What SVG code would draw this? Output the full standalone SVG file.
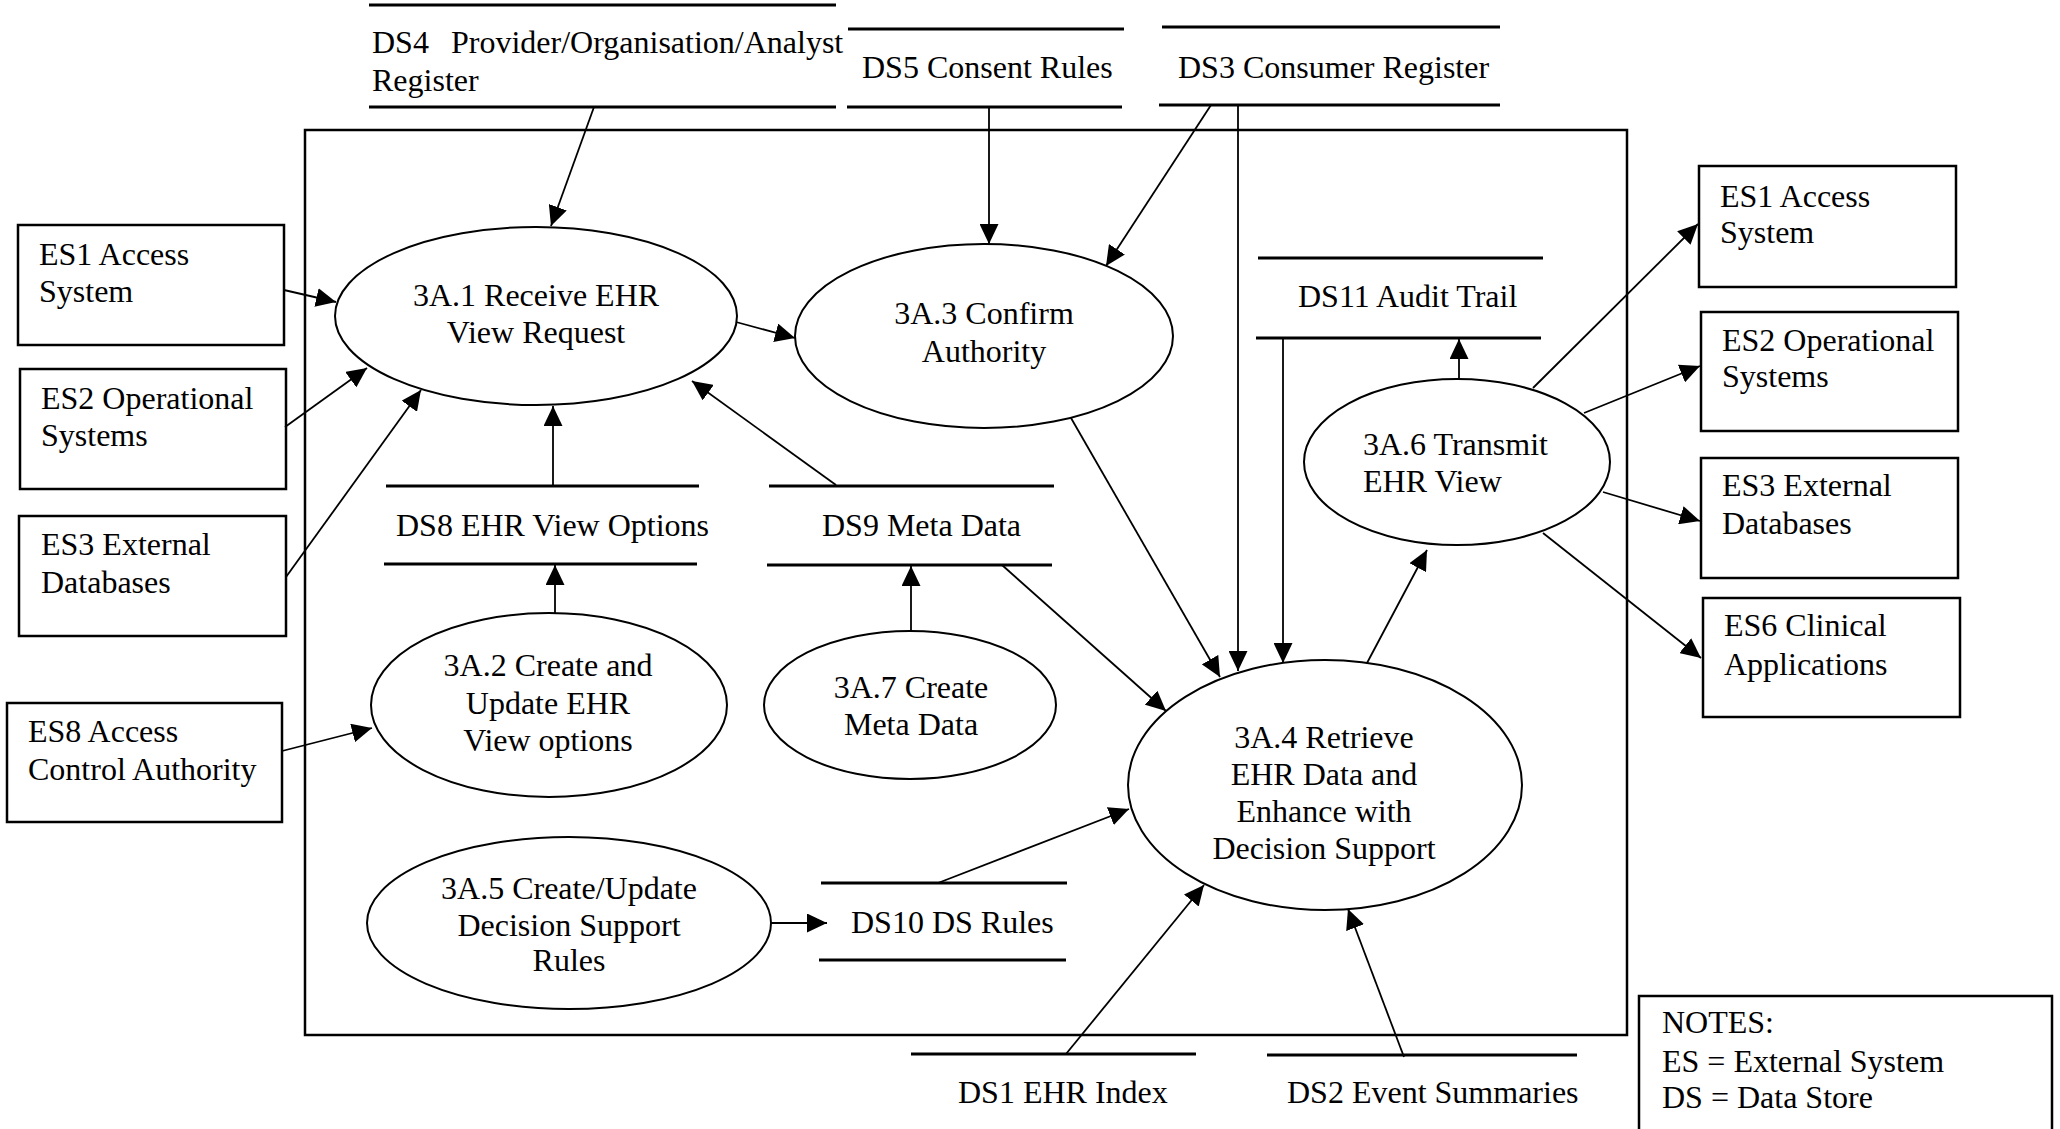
<svg xmlns="http://www.w3.org/2000/svg" width="2060" height="1129" viewBox="0 0 2060 1129">
  <style>
    text { font-family: "Liberation Serif", "Times New Roman", serif; font-size: 32px; fill: #000; }
    .mid { text-anchor: middle; }
    .box { fill: #fff; stroke: #000; stroke-width: 2.5; }
    .proc { fill: #fff; stroke: #000; stroke-width: 2; }
    .ds { stroke: #000; stroke-width: 3; fill: none; }
    .frame { fill: none; stroke: #000; stroke-width: 2.5; }
    .flow { stroke: #000; stroke-width: 1.8; fill: none; marker-end: url(#arr); }
  </style>
  <defs>
    <marker id="arr" markerUnits="userSpaceOnUse" markerWidth="20" markerHeight="19" refX="20" refY="9.5" orient="auto">
      <path d="M0,0 L20,9.5 L0,19 z" fill="#000"/>
    </marker>
  </defs>
  <rect width="2060" height="1129" fill="#fff"/>

  <!-- system boundary -->
  <rect class="frame" x="305" y="130" width="1322" height="905"/>

  <!-- data stores -->
  <g id="ds4">
    <line class="ds" x1="369" y1="5" x2="836" y2="5"/>
    <line class="ds" x1="369" y1="107" x2="836" y2="107"/>
    <text x="372" y="53">DS4<tspan x="451">Provider/Organisation/Analyst</tspan></text>
    <text x="372" y="91">Register</text>
  </g>
  <g id="ds5">
    <line class="ds" x1="848" y1="29" x2="1124" y2="29"/>
    <line class="ds" x1="847" y1="107" x2="1122" y2="107"/>
    <text x="862" y="78">DS5 Consent Rules</text>
  </g>
  <g id="ds3">
    <line class="ds" x1="1162" y1="27" x2="1500" y2="27"/>
    <line class="ds" x1="1159" y1="105" x2="1500" y2="105"/>
    <text x="1178" y="78">DS3 Consumer Register</text>
  </g>
  <g id="ds11">
    <line class="ds" x1="1258" y1="258" x2="1543" y2="258"/>
    <line class="ds" x1="1256" y1="338" x2="1541" y2="338"/>
    <text x="1298" y="307">DS11 Audit Trail</text>
  </g>
  <g id="ds8">
    <line class="ds" x1="386" y1="486" x2="699" y2="486"/>
    <line class="ds" x1="384" y1="564" x2="697" y2="564"/>
    <text x="396" y="536">DS8 EHR View Options</text>
  </g>
  <g id="ds9">
    <line class="ds" x1="769" y1="486" x2="1054" y2="486"/>
    <line class="ds" x1="767" y1="565" x2="1052" y2="565"/>
    <text x="822" y="536">DS9 Meta Data</text>
  </g>
  <g id="ds10">
    <line class="ds" x1="821" y1="883" x2="1067" y2="883"/>
    <line class="ds" x1="819" y1="960" x2="1066" y2="960"/>
    <text x="851" y="933">DS10 DS Rules</text>
  </g>
  <g id="ds1">
    <line class="ds" x1="911" y1="1054" x2="1196" y2="1054"/>
    <text x="958" y="1103">DS1 EHR Index</text>
  </g>
  <g id="ds2">
    <line class="ds" x1="1267" y1="1055" x2="1577" y2="1055"/>
    <text x="1287" y="1103">DS2 Event Summaries</text>
  </g>

  <!-- external systems, left -->
  <g id="es1-left">
    <rect class="box" x="18" y="225" width="266" height="120"/>
    <text x="39" y="265">ES1 Access</text>
    <text x="39" y="302">System</text>
  </g>
  <g id="es2-left">
    <rect class="box" x="20" y="369" width="266" height="120"/>
    <text x="41" y="409">ES2 Operational</text>
    <text x="41" y="446">Systems</text>
  </g>
  <g id="es3-left">
    <rect class="box" x="19" y="516" width="267" height="120"/>
    <text x="41" y="555">ES3 External</text>
    <text x="41" y="593">Databases</text>
  </g>
  <g id="es8">
    <rect class="box" x="7" y="703" width="275" height="119"/>
    <text x="28" y="742">ES8 Access</text>
    <text x="28" y="780">Control Authority</text>
  </g>

  <!-- external systems, right -->
  <g id="es1-right">
    <rect class="box" x="1699" y="166" width="257" height="121"/>
    <text x="1720" y="207">ES1 Access</text>
    <text x="1720" y="243">System</text>
  </g>
  <g id="es2-right">
    <rect class="box" x="1701" y="312" width="257" height="119"/>
    <text x="1722" y="351">ES2 Operational</text>
    <text x="1722" y="387">Systems</text>
  </g>
  <g id="es3-right">
    <rect class="box" x="1701" y="458" width="257" height="120"/>
    <text x="1722" y="496">ES3 External</text>
    <text x="1722" y="534">Databases</text>
  </g>
  <g id="es6">
    <rect class="box" x="1703" y="598" width="257" height="119"/>
    <text x="1724" y="636">ES6 Clinical</text>
    <text x="1724" y="675">Applications</text>
  </g>

  <!-- processes -->
  <g id="p3a1">
    <ellipse class="proc" cx="536" cy="316" rx="201" ry="89"/>
    <text class="mid" x="536" y="306">3A.1 Receive EHR</text>
    <text class="mid" x="536" y="343">View Request</text>
  </g>
  <g id="p3a3">
    <ellipse class="proc" cx="984" cy="336" rx="189" ry="92"/>
    <text class="mid" x="984" y="324">3A.3 Confirm</text>
    <text class="mid" x="984" y="362">Authority</text>
  </g>
  <g id="p3a6">
    <ellipse class="proc" cx="1457" cy="462" rx="153" ry="83"/>
    <text x="1363" y="455">3A.6 Transmit</text>
    <text x="1363" y="492">EHR View</text>
  </g>
  <g id="p3a2">
    <ellipse class="proc" cx="549" cy="705" rx="178" ry="92"/>
    <text class="mid" x="548" y="676">3A.2 Create and</text>
    <text class="mid" x="548" y="714">Update EHR</text>
    <text class="mid" x="548" y="751">View options</text>
  </g>
  <g id="p3a7">
    <ellipse class="proc" cx="910" cy="705" rx="146" ry="74"/>
    <text class="mid" x="911" y="698">3A.7 Create</text>
    <text class="mid" x="911" y="735">Meta Data</text>
  </g>
  <g id="p3a5">
    <ellipse class="proc" cx="569" cy="923" rx="202" ry="86"/>
    <text class="mid" x="569" y="899">3A.5 Create/Update</text>
    <text class="mid" x="569" y="936">Decision Support</text>
    <text class="mid" x="569" y="971">Rules</text>
  </g>
  <g id="p3a4">
    <ellipse class="proc" cx="1325" cy="785" rx="197" ry="125"/>
    <text class="mid" x="1324" y="748">3A.4 Retrieve</text>
    <text class="mid" x="1324" y="785">EHR Data and</text>
    <text class="mid" x="1324" y="822">Enhance with</text>
    <text class="mid" x="1324" y="859">Decision Support</text>
  </g>

  <!-- notes -->
  <g id="notes">
    <rect class="box" x="1639" y="996" width="413" height="150"/>
    <text x="1662" y="1033">NOTES:</text>
    <text x="1662" y="1072">ES = External System</text>
    <text x="1662" y="1108">DS = Data Store</text>
  </g>

  <!-- data flows -->
  <g id="connectors">
    <line class="flow" x1="594" y1="107" x2="551" y2="226"/>
    <line class="flow" x1="989" y1="107" x2="989" y2="244"/>
    <line class="flow" x1="1211" y1="105" x2="1106" y2="266"/>
    <line class="flow" x1="1238" y1="105" x2="1238" y2="671"/>
    <line class="flow" x1="1283" y1="338" x2="1283" y2="663"/>
    <line class="flow" x1="284" y1="290" x2="336" y2="302"/>
    <line class="flow" x1="285" y1="427" x2="367" y2="368"/>
    <line class="flow" x1="286" y1="577" x2="421" y2="390"/>
    <line class="flow" x1="736" y1="322" x2="795" y2="338"/>
    <line class="flow" x1="553" y1="486" x2="553" y2="406"/>
    <line class="flow" x1="555" y1="613" x2="555" y2="565"/>
    <line class="flow" x1="836" y1="485" x2="692" y2="381"/>
    <line class="flow" x1="911" y1="631" x2="911" y2="566"/>
    <line class="flow" x1="1002" y1="565" x2="1166" y2="711"/>
    <line class="flow" x1="1071" y1="418" x2="1220" y2="677"/>
    <line class="flow" x1="1367" y1="663" x2="1427" y2="550"/>
    <line class="flow" x1="1459" y1="379" x2="1459" y2="339"/>
    <line class="flow" x1="1533" y1="388" x2="1698" y2="224"/>
    <line class="flow" x1="1584" y1="413" x2="1700" y2="366"/>
    <line class="flow" x1="1603" y1="492" x2="1700" y2="521"/>
    <line class="flow" x1="1543" y1="533" x2="1701" y2="658"/>
    <line class="flow" x1="282" y1="751" x2="372" y2="728"/>
    <line class="flow" x1="771" y1="923" x2="827" y2="923"/>
    <line class="flow" x1="938" y1="883" x2="1129" y2="809"/>
    <line class="flow" x1="1066" y1="1054" x2="1204" y2="885"/>
    <line class="flow" x1="1404" y1="1057" x2="1348" y2="909"/>
  </g>
</svg>
